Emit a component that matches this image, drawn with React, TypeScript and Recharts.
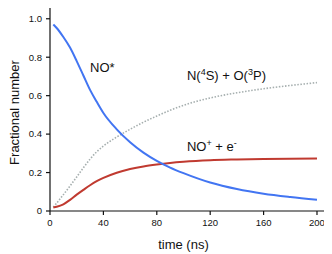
import React from "react";
import {
  LineChart,
  Line,
  XAxis,
  YAxis,
  ReferenceDot,
} from "recharts";

const times = [2.5, 5, 10, 15, 20, 25, 30, 35, 40, 50, 60, 70, 80, 90, 100, 120, 140, 160, 180, 200];
const excited = [0.97, 0.952, 0.905, 0.85, 0.78, 0.705, 0.63, 0.568, 0.51, 0.425, 0.358, 0.304, 0.261, 0.226, 0.197, 0.148, 0.114, 0.09, 0.073, 0.059];
const ionized = [0.018, 0.022, 0.035, 0.058, 0.085, 0.11, 0.134, 0.155, 0.172, 0.199, 0.218, 0.232, 0.242, 0.25, 0.256, 0.264, 0.268, 0.271, 0.272, 0.273];
const dissociated = [0.02, 0.041, 0.085, 0.13, 0.177, 0.225, 0.27, 0.308, 0.338, 0.385, 0.425, 0.462, 0.494, 0.524, 0.55, 0.588, 0.615, 0.636, 0.653, 0.668];

const xTicks = [0, 40, 80, 120, 160, 200];
const yTicks = [0, 0.2, 0.4, 0.6, 0.8, 1.0];

const data = times.map((t, i) => ({
  t,
  excited: excited[i],
  ionized: ionized[i],
  dissociated: dissociated[i],
}));

const FONT = "'Liberation Sans', Arial, Helvetica, sans-serif";
const BLUE = "#4275f2";
const RED = "#c03a30";
const GRAY = "#a6afaf";

type Part = { text: string; sup?: boolean };

function annot(parts: Part[]) {
  return (props: any) => {
    const vb = props.viewBox || {};
    return (
      <text x={vb.x} y={vb.y} fontSize={13} fontFamily={FONT} fill="#111">
        {parts.map((p, i) => (
          <tspan
            key={i}
            fontSize={p.sup ? 9 : 13}
            dy={p.sup ? -5 : i > 0 && parts[i - 1].sup ? 5 : 0}
          >
            {p.text}
          </tspan>
        ))}
      </text>
    );
  };
}

function XLabel(props: any) {
  const vb = props.viewBox;
  return (
    <text
      x={vb.x + (vb.width * 100) / 206}
      y={vb.y + 38}
      textAnchor="middle"
      fontSize={13}
      fontFamily={FONT}
      fill="#111"
    >
      time (ns)
    </text>
  );
}

function YLabel(props: any) {
  const vb = props.viewBox;
  const x = vb.x + 11;
  const y = vb.y + vb.height / 2 + 3;
  return (
    <text
      x={x}
      y={y}
      transform={`rotate(-90, ${x}, ${y})`}
      textAnchor="middle"
      fontSize={13}
      fontFamily={FONT}
      fill="#111"
    >
      Fractional number
    </text>
  );
}

const tickStyle = { fontSize: 9.5, fontFamily: FONT, fill: "#111" };
const axisLine = { stroke: "#111", strokeWidth: 1.2 };

export default function App() {
  return (
    <LineChart
      width={324}
      height={246}
      data={data}
      margin={{ top: 0, right: 7, bottom: 0, left: 0 }}
      style={{ overflow: "visible" }}
    >
      <XAxis
        dataKey="t"
        type="number"
        domain={[0, 206]}
        ticks={xTicks}
        tickSize={4}
        tickMargin={4}
        height={43}
        tick={tickStyle}
        axisLine={axisLine}
        tickLine={axisLine}
        label={<XLabel />}
      />
      <YAxis
        type="number"
        domain={[0, 1.056]}
        ticks={yTicks}
        tickSize={4}
        tickMargin={4}
        width={42}
        tick={tickStyle}
        axisLine={axisLine}
        tickLine={axisLine}
        tickFormatter={(v: number) => (v === 0 ? "0" : v.toFixed(1))}
        label={<YLabel />}
      />
      <Line
        type="monotone"
        dataKey="dissociated"
        stroke={GRAY}
        strokeWidth={1.6}
        strokeDasharray="1.5 1.6"
        dot={false}
        isAnimationActive={false}
      />
      <Line
        type="monotone"
        dataKey="ionized"
        stroke={RED}
        strokeWidth={2}
        dot={false}
        isAnimationActive={false}
      />
      <Line
        type="monotone"
        dataKey="excited"
        stroke={BLUE}
        strokeWidth={2}
        dot={false}
        isAnimationActive={false}
      />
      <ReferenceDot
        x={30}
        y={0.724}
        r={0}
        fill="none"
        stroke="none"
        label={annot([{ text: "NO" }, { text: "*", sup: false }])}
      />
      <ReferenceDot
        x={102.6}
        y={0.682}
        r={0}
        fill="none"
        stroke="none"
        label={annot([
          { text: "N(" },
          { text: "4", sup: true },
          { text: "S) + O(" },
          { text: "3", sup: true },
          { text: "P)" },
        ])}
      />
      <ReferenceDot
        x={102.6}
        y={0.311}
        r={0}
        fill="none"
        stroke="none"
        label={annot([
          { text: "NO" },
          { text: "+", sup: true },
          { text: " + e" },
          { text: "-", sup: true },
        ])}
      />
    </LineChart>
  );
}
